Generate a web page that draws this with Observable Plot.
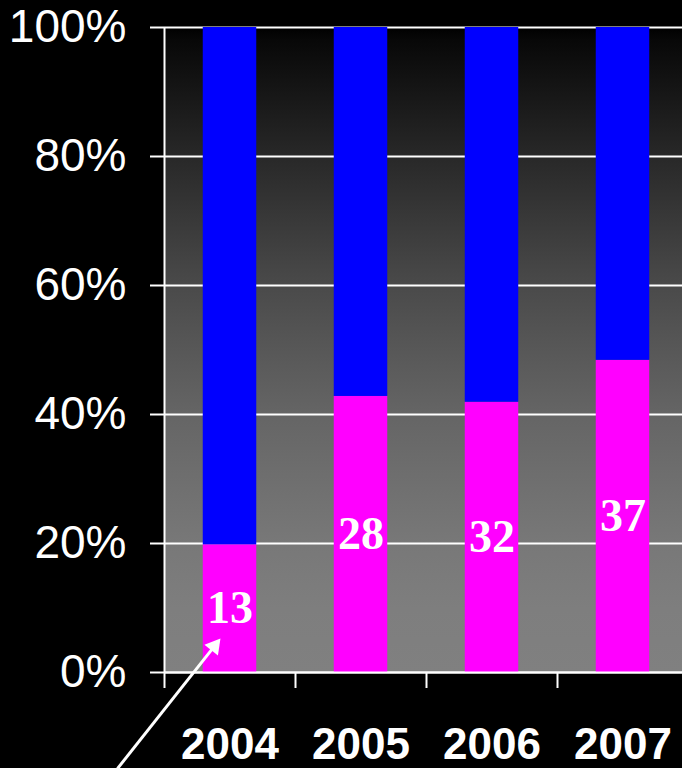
<!DOCTYPE html>
<html><head><meta charset="utf-8">
<script src="https://cdn.jsdelivr.net/npm/d3@7"></script>
<script src="https://cdn.jsdelivr.net/npm/@observablehq/plot@0.6"></script>
<style>
html,body{margin:0;padding:0;background:#000;overflow:hidden;}
#chart{width:682px;height:768px;overflow:hidden;}
#chart svg{max-width:none !important;}
</style></head><body><div id="chart"></div>
<script>
const years = [2004, 2005, 2006, 2007];
const counts = [13, 28, 32, 37];
const shares = [19.8, 42.8, 41.9, 48.4]; // percent (magenta part)
const yTicks = [0, 20, 40, 60, 80, 100];
const xBoundaries = [2003.5, 2004.5, 2005.5, 2006.5];
const arrowLine = [{x1: 2003.141, y1: -14.9, x2: 2003.88, y2: 4.06}];
const arrowHead = [{x: 2003.880, y: 4.06, angle: 38.4}];
const bgStops = [[0, "#000000"], [0.02, "#080808"], [0.2, "#282828"], [0.4, "#4a4a4a"], [0.6, "#656565"], [0.8, "#787878"], [0.9, "#7e7e7e"], [1, "#808080"]];

const parts = years.flatMap((year, i) => [
  {year, part: "share", value: shares[i]},
  {year, part: "rest", value: 100 - shares[i]}
]);
const labels = years.map((year, i) => ({year, count: counts[i], mid: shares[i] / 2}));

const chart = Plot.plot({
  width: 690, height: 768,
  marginLeft: 164, marginRight: 2, marginTop: 27, marginBottom: 96,
  style: {background: "#000", color: "#fff", fontFamily: "'Liberation Sans', Arial, sans-serif", maxWidth: "none"},
  x: {type: "linear", domain: [2003.5, 2007.5], axis: null},
  y: {domain: [0, 100], axis: null, label: null},
  color: {domain: ["share", "rest"], range: ["#ff00ff", "#0000ff"]},
  marks: [
    Plot.frame({fill: "url(#bg)", stroke: "none"}),
    Plot.ruleY(yTicks, {stroke: "#fff", strokeWidth: 2}),
    Plot.rectY(parts, Plot.stackY({x1: d => d.year - 0.5, x2: d => d.year + 0.5, y: "value", fill: "part", insetLeft: 38.75, insetRight: 38.75})),
    Plot.ruleY([0], {stroke: "#fff", strokeWidth: 2}),
    Plot.ruleX([2003.5], {stroke: "#fff", strokeWidth: 2}),
    Plot.axisY({ticks: yTicks, tickSize: 14, tickPadding: 24, strokeWidth: 2, tickFormat: d => d + "%", fontSize: 46, label: null}),
    Plot.axisX({ticks: xBoundaries, tickSize: 16, strokeWidth: 2, fill: "none", tickFormat: () => "", label: null}),
    Plot.axisX({ticks: years, tickSize: 0, tickPadding: 55, tickFormat: d => String(d), fontSize: 44, fontWeight: "bold", label: null}),
    Plot.text(labels, {x: "year", y: "mid", text: "count", fill: "#fff", fontSize: 46, fontWeight: "bold", fontFamily: "'Liberation Serif', 'Times New Roman', serif"}),
    Plot.link(arrowLine, {x1: "x1", y1: "y1", x2: "x2", y2: "y2", stroke: "#fff", strokeWidth: 3}),
    Plot.dot(arrowHead, {x: "x", y: "y", symbol: "triangle", r: 6.4, fill: "#fff", stroke: "none", rotate: "angle"})
  ]
});

const defs = d3.select(chart).insert("defs", ":first-child");
const grad = defs.append("linearGradient").attr("id", "bg").attr("x1", 0).attr("y1", 0).attr("x2", 0).attr("y2", 1);
bgStops.forEach(([o, c]) => grad.append("stop").attr("offset", o).attr("stop-color", c));
document.getElementById("chart").appendChild(chart);
</script></body></html>
